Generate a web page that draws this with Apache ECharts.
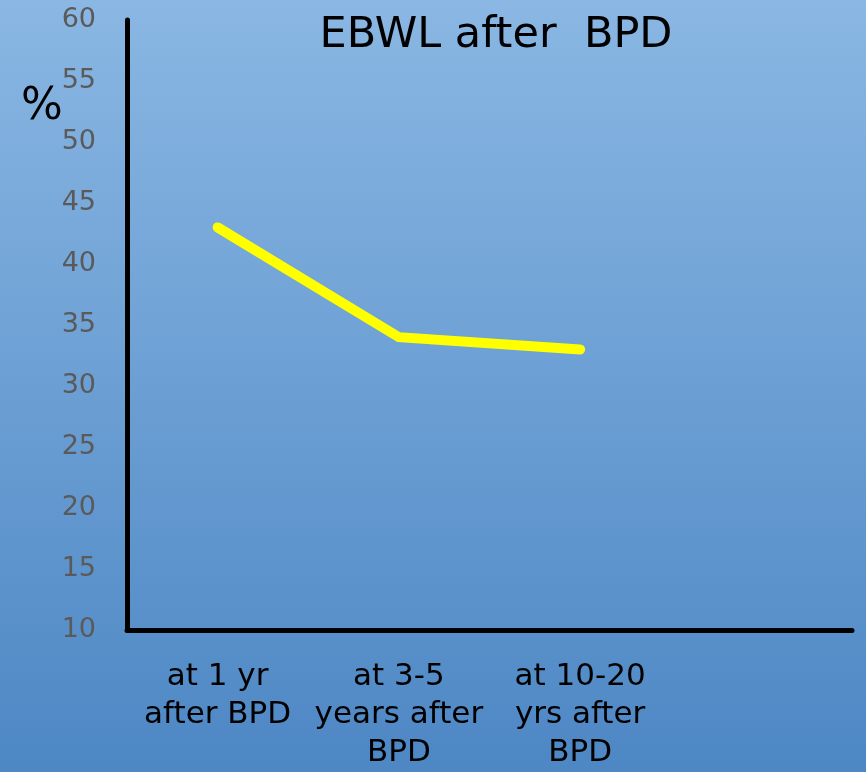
<!DOCTYPE html>
<html>
<head>
<meta charset="utf-8">
<script src="https://cdn.jsdelivr.net/npm/echarts@6/dist/echarts.min.js"></script>
<style>
  html, body { margin: 0; padding: 0; }
  #chart { width: 866px; height: 772px; }
</style>
</head>
<body>
<div id="chart"></div>
<script>
// Follow-up time points (last slot left empty on the axis)
const categories = ['at 1 yr\nafter BPD', 'at 3-5\nyears after\nBPD', 'at 10-20\nyrs after\nBPD', ''];
// Excess body weight loss, %
const ebwl = [43, 34, 33, null];
const yTicks = { min: 10, max: 60, interval: 5 };

const chart = echarts.init(document.getElementById('chart'));
chart.setOption({
  backgroundColor: {
    type: 'linear', x: 0, y: 0, x2: 0, y2: 1,
    colorStops: [
      { offset: 0, color: '#8ab7e3' },
      { offset: 1, color: '#4d87c4' }
    ]
  },
  title: {
    text: 'EBWL after  BPD',
    left: 491, top: 9, textAlign: 'center',
    textStyle: { fontFamily: 'DejaVu Sans', fontSize: 43, fontWeight: 'normal', color: '#000' }
  },
  graphic: [{
    type: 'text', left: 21, top: 86,
    style: { text: '%', fontFamily: 'DejaVu Sans', fontSize: 44, fill: '#000' }
  }],
  grid: { left: 127, right: 14, top: 20, bottom: 137 },
  xAxis: {
    type: 'category',
    data: categories,
    boundaryGap: true,
    axisLine: { lineStyle: { color: '#000', width: 5 } },
    axisTick: { show: false },
    axisLabel: {
      interval: 0, margin: 28, lineHeight: 38,
      fontFamily: 'DejaVu Sans', fontSize: 31, color: '#000', align: 'center'
    },
    splitLine: { show: false }
  },
  yAxis: {
    type: 'value',
    min: yTicks.min, max: yTicks.max, interval: yTicks.interval,
    axisLine: { show: true, lineStyle: { color: '#000', width: 5 } },
    axisTick: { show: false },
    axisLabel: { margin: 31, fontFamily: 'DejaVu Sans', fontSize: 27, color: '#5a5a5a' },
    splitLine: { show: false }
  },
  series: [{
    type: 'line',
    data: ebwl,
    symbol: 'none',
    lineStyle: { color: '#ffff00', width: 10, cap: 'round', join: 'miter' },
    silent: true
  }],
  animation: false
});
</script>
</body>
</html>
